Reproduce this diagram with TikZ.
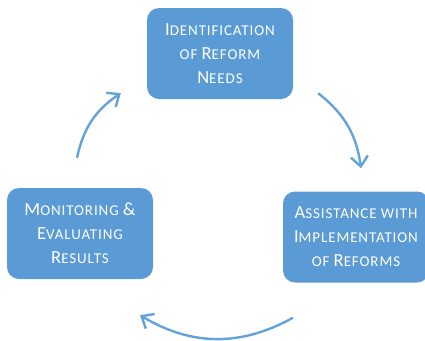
\documentclass[tikz,border=0pt]{standalone}
\usepackage{fontspec}
\setmainfont{Carlito}
\usetikzlibrary{arrows.meta}

\definecolor{boxblue}{HTML}{5B9BD5}
\definecolor{arrowblue}{HTML}{64A2DA}
\newcommand{\sC}[1]{{\fontsize{15pt}{24pt}\selectfont\addfontfeatures{LetterSpace=6}#1}}

\begin{document}
\begin{tikzpicture}[
    stage/.style={rectangle, rounded corners=12pt, fill=boxblue, text=white,
      minimum width=146pt, minimum height=91pt, align=center,
      font=\fontsize{18.5pt}{24pt}\selectfont},
    cycarrow/.style={draw=arrowblue, line width=2.4pt,
      -{Straight Barb[length=10pt, width=17pt]}}]
  \useasboundingbox (0,0) rectangle (425pt,-340pt);
  \node[stage] (ident) at (220pt,-53.5pt)
    {I\sC{DENTIFICATION}\\\sC{OF} R\sC{EFORM}\\N\sC{EEDS}};
  \node[stage] (assist) at (356pt,-237pt)
    {A\sC{SSISTANCE WITH}\\I\sC{MPLEMENTATION}\\\sC{OF} R\sC{EFORMS}};
  \node[stage] (mon) at (80pt,-233.5pt)
    {M\sC{ONITORING} \&\\E\sC{VALUATING}\\R\sC{ESULTS}};
  % free ends of the arrows
  \coordinate (mon-out) at ([shift={(-3pt,30pt)}]mon.north);
  \coordinate (ident-in) at ([shift={(-26pt,6pt)}]ident.south west);
  \coordinate (ident-out) at ([shift={(25pt,6pt)}]ident.south east);
  \coordinate (assist-in) at ([shift={(5pt,23pt)}]assist.north);
  \coordinate (assist-out) at ([shift={(-63pt,-35pt)}]assist.south);
  \coordinate (mon-in) at ([shift={(60pt,-36pt)}]mon.south);
  \draw[cycarrow] (mon-out) to[bend left=22] (ident-in);
  \draw[cycarrow] (ident-out) to[bend left=22] (assist-in);
  \draw[cycarrow] (assist-out) to[bend left=30] (mon-in);
\end{tikzpicture}
\end{document}
